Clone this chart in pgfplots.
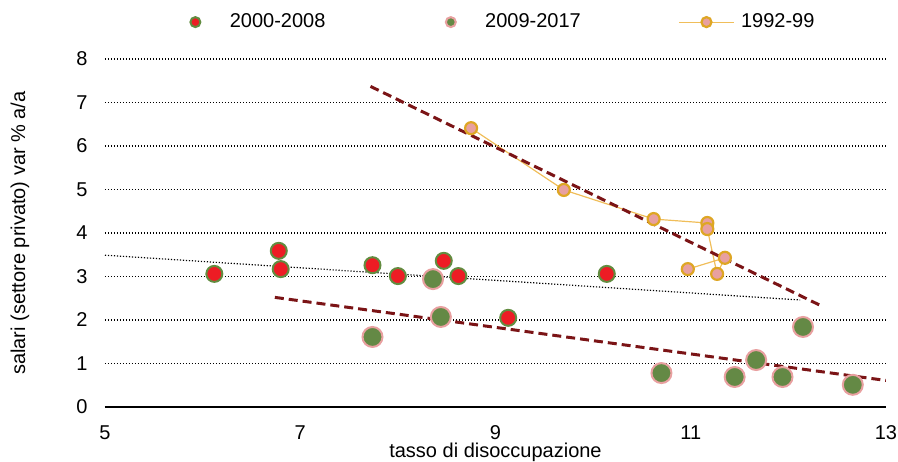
\documentclass[border=0pt]{standalone}
\usepackage{fontspec}
\setmainfont{Liberation Sans}
\usepackage{pgfplots}
\pgfplotsset{compat=1.18}

\definecolor{redfill}{RGB}{237,28,36}
\definecolor{rededge}{RGB}{98,140,64}
\definecolor{greenfill}{RGB}{100,137,69}
\definecolor{greenedge}{RGB}{232,160,160}
\definecolor{pinkfill}{RGB}{232,160,160}
\definecolor{goldedge}{RGB}{222,166,36}
\definecolor{goldline}{RGB}{240,190,90}
\definecolor{trendred}{RGB}{123,20,22}

\pgfplotsset{
  dotlegend/.style={legend image code/.code={
    \path (0pt,0pt) (27.5pt,0pt);
    \draw[##1,only marks,mark size=2.5pt] plot coordinates {(13.75pt,0pt)};}},
  linelegend/.style={legend image code/.code={
    \path (0pt,0pt) (27.5pt,0pt);
    \draw[##1,mark size=2.5pt,mark repeat=2,mark phase=2] plot coordinates {(0pt,0pt) (13.75pt,0pt) (27.5pt,0pt)};}},
}

\begin{document}
\begin{tikzpicture}
\useasboundingbox (-52.5pt,-27pt) rectangle (396.5pt,203.5pt);
\begin{axis}[
  at={(0,0)}, anchor=south west,
  scale only axis, width=390.5pt, height=174pt,
  xmin=5, xmax=13, ymin=0, ymax=8,
  xtick={5,7,9,11,13}, ytick={0,1,...,8},
  major tick length=0pt,
  axis x line*=bottom, axis y line*=left,
  y axis line style={draw=none},
  x axis line style={black, line width=0.8pt, -},
  ymajorgrids,
  grid style={black, line width=0.7pt, dash pattern=on 0.7pt off 0.8pt},
  /pgf/number format/assume math mode=true,
  yticklabel style={xshift=-5.2pt},
  xticklabel style={yshift=-5.6pt},
  xlabel={tasso di disoccupazione},
  ylabel={salari (settore privato) var \% a/a},
  every axis x label/.style={at={(axis description cs:0.5,-0.131)}, anchor=center},
  every axis y label/.style={at={(axis description cs:-0.1088,0.5)}, rotate=90, anchor=center},
  legend columns=3,
  legend style={at={(0.080,1.106)}, anchor=west, draw=none, fill=none,
    inner sep=0pt, outer sep=0pt,
    nodes={inner sep=3.25pt, anchor=west},
    /tikz/every even column/.append style={column sep=45.5pt}},
]

% 2000-2008
\addplot[only marks, mark=*, mark size=4pt,
  mark options={fill=redfill, draw=rededge, line width=1pt}, dotlegend]
  coordinates {
  (6.12,3.06) (6.78,3.59) (6.80,3.17) (7.74,3.26) (8.00,3.01)
  (8.47,3.36) (8.62,3.01) (9.13,2.05) (10.14,3.06)
};
\addlegendentry{2000-2008}

% 2009-2017
\addplot[only marks, mark=*, mark size=5pt,
  mark options={fill=greenfill, draw=greenedge, line width=1pt}, dotlegend]
  coordinates {
  (7.74,1.61) (8.36,2.94) (8.44,2.07) (10.70,0.78) (11.45,0.69)
  (11.67,1.08) (11.94,0.69) (12.15,1.84) (12.66,0.51)
};
\addlegendentry{2009-2017}

% 1992-99
\addplot[goldline, line width=0.6pt, mark=*, mark size=3pt,
  mark options={fill=pinkfill, draw=goldedge, line width=1.1pt, solid}, linelegend]
  coordinates {
  (8.75,6.41) (9.70,4.99) (10.62,4.32) (11.17,4.23)
  (11.17,4.09) (11.27,3.06) (11.35,3.43) (10.97,3.17)
};
\addlegendentry{1992-99}

% trend lines
\addplot[forget plot, black, line width=0.6pt, dash pattern=on 0.6pt off 0.9pt]
  coordinates {(5,3.49) (12.12,2.46)};
\addplot[forget plot, trendred, line width=1.5pt, dash pattern=on 4.5pt off 2.5pt]
  coordinates {(7.72,7.37) (12.36,2.30)};
\addplot[forget plot, trendred, line width=1.5pt, dash pattern=on 4.5pt off 2.5pt]
  coordinates {(6.74,2.52) (13,0.61)};

\end{axis}
\end{tikzpicture}
\end{document}
